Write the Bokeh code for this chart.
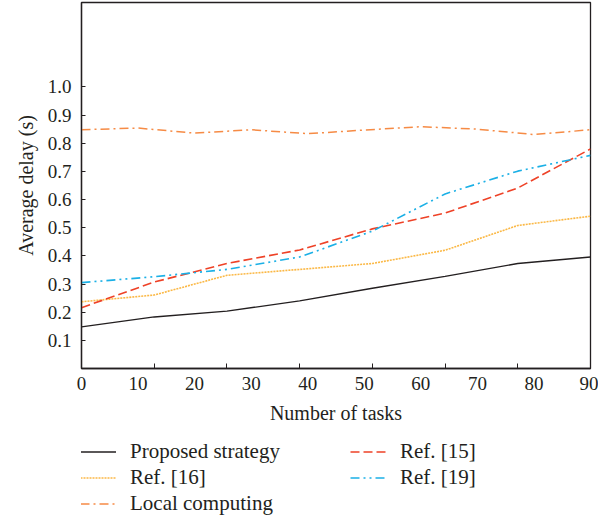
from bokeh.plotting import figure
from bokeh.layouts import column
from bokeh.models import FixedTicker, Legend, LegendItem, Range1d
from bokeh.embed import file_html
from bokeh.resources import INLINE

# ---- data ----
x_label_values = [0, 10, 20, 30, 40, 50, 60, 70, 80, 90]
x_tick_marks = [0, 12.86, 25.71, 38.57, 51.43, 64.29, 77.14, 90]
task_points = [0, 12.86, 25.71, 38.57, 51.43, 64.29, 77.14, 90]
y_ticks = [0.1, 0.2, 0.3, 0.4, 0.5, 0.6, 0.7, 0.8, 0.9, 1.0]
y_tick_labels = ["0.1", "0.2", "0.3", "0.4", "0.5", "0.6", "0.7", "0.8", "0.9", "1.0"]

proposed = [0.148, 0.183, 0.204, 0.240, 0.285, 0.327, 0.373, 0.396]
ref16 = [0.237, 0.261, 0.331, 0.352, 0.373, 0.420, 0.508, 0.541]
ref15 = [0.216, 0.307, 0.373, 0.421, 0.496, 0.552, 0.641, 0.780]
ref19 = [0.305, 0.326, 0.352, 0.396, 0.488, 0.620, 0.701, 0.757]
local_x = [0, 10, 20, 30, 40, 50, 60, 70, 80, 90]
local = [0.848, 0.854, 0.836, 0.848, 0.834, 0.847, 0.859, 0.850, 0.831, 0.848]

series_names = ["Proposed strategy", "Ref. [16]", "Local computing", "Ref. [15]", "Ref. [19]"]

FONT = "Liberation Serif"
INK = "#231f20"
styles = [
    dict(line_color=INK, line_width=1.3),
    dict(line_color="#fbb845", line_width=1.6, line_dash="2 1"),
    dict(line_color="#f68b45", line_width=1.5, line_dash="9 4 2 4"),
    dict(line_color="#ee4227", line_width=1.6, line_dash="9 4"),
    dict(line_color="#1bb0e6", line_width=1.6, line_dash="9 4 2 4 2 4"),
]

p = figure(width=598, height=440,
           x_range=Range1d(0, 90), y_range=Range1d(0, 1.3),
           output_backend="svg", toolbar_location=None,
           min_border_left=81, min_border_right=8,
           min_border_top=2, min_border_bottom=72)

p.xgrid.visible = False
p.ygrid.visible = False
p.outline_line_color = INK
p.outline_line_width = 1.3
p.outline_line_alpha = 1.0

# x axis: labels every 10, tick marks at 7 even intervals
xa = p.xaxis[0]
xa.ticker = FixedTicker(ticks=x_label_values, minor_ticks=x_tick_marks)
xa.major_tick_in = 0
xa.major_tick_out = 0
xa.minor_tick_in = 5
xa.minor_tick_out = 0
xa.minor_tick_line_color = INK
xa.minor_tick_line_width = 1
xa.axis_line_color = INK
xa.axis_line_width = 1.3
xa.major_label_text_font = FONT
xa.major_label_text_font_size = "19px"
xa.major_label_text_color = INK
xa.major_label_standoff = 8
xa.axis_label = "Number of tasks"
xa.axis_label_text_font = FONT
xa.axis_label_text_font_size = "20px"
xa.axis_label_text_font_style = "normal"
xa.axis_label_text_color = INK
xa.axis_label_standoff = 9

ya = p.yaxis[0]
ya.ticker = FixedTicker(ticks=y_ticks, minor_ticks=[])
ya.major_label_overrides = {t: l for t, l in zip(y_ticks, y_tick_labels)}
ya.major_tick_in = 4
ya.major_tick_out = 0
ya.major_tick_line_color = INK
ya.axis_line_color = INK
ya.axis_line_width = 1.3
ya.major_label_text_font = FONT
ya.major_label_text_font_size = "19px"
ya.major_label_text_color = INK
ya.major_label_standoff = 10
ya.axis_label = "Average delay (s)"
ya.axis_label_text_font = FONT
ya.axis_label_text_font_size = "20px"
ya.axis_label_text_font_style = "normal"
ya.axis_label_text_color = INK
ya.axis_label_standoff = 8

series = [(task_points, proposed), (task_points, ref16), (local_x, local),
          (task_points, ref15), (task_points, ref19)]
for (xs, ys), st in zip(series, styles):
    p.line(xs, ys, **st)

# legend panel underneath the chart (its own lines lie outside its visible range)
p2 = figure(width=598, height=75, x_range=Range1d(1000, 1001), y_range=Range1d(1000, 1001),
            output_backend="svg", toolbar_location=None, min_border=0)
p2.axis.visible = False
p2.xgrid.visible = False
p2.ygrid.visible = False
p2.outline_line_alpha = 0

items = []
for name, (xs, ys), st in zip(series_names, series, styles):
    r = p2.line(xs, ys, **st)
    items.append(LegendItem(label=name, renderers=[r]))

legend = Legend(items=items, location=(-1, -1), orientation="vertical", nrows=3,
                glyph_width=36, glyph_height=21, label_height=21, label_width=219,
                label_standoff=14, spacing=1, padding=0, margin=0,
                border_line_alpha=0, background_fill_alpha=0,
                label_text_font=FONT, label_text_font_size="21px",
                label_text_color=INK)
p2.add_layout(legend, "center")

open("out.html", "w").write(file_html(column(p, p2), INLINE))
